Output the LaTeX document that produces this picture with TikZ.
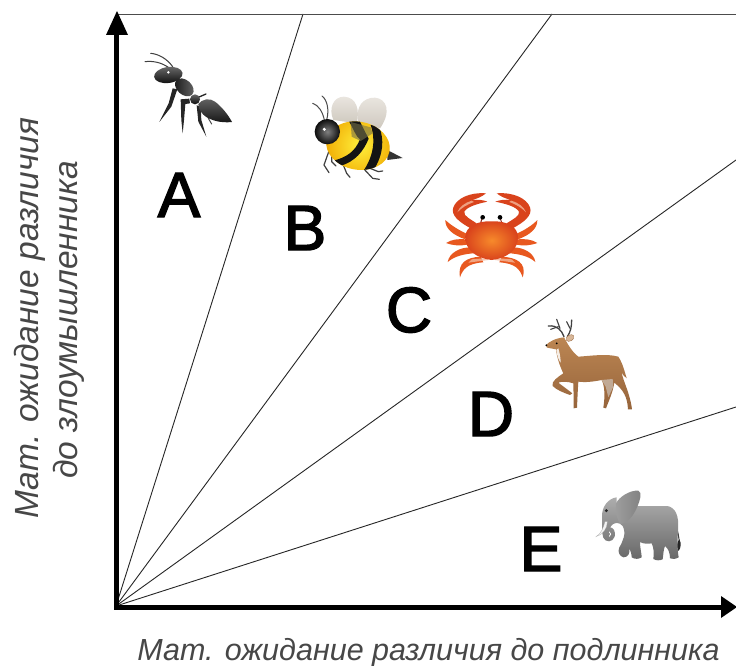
\documentclass[tikz,border=0pt]{standalone}
\usepackage{fontspec}
\setmainfont{Liberation Sans}
\newfontfamily\letterfont[FakeBold=2.2]{Liberation Sans}
\definecolor{crabdark}{HTML}{D9431C}
\definecolor{crabmid}{HTML}{E8581F}
\definecolor{crabin}{HTML}{F78A2B}
\definecolor{crabtip}{HTML}{8E2A1A}
\definecolor{crabpale}{HTML}{F4B79A}
\definecolor{deerlight}{HTML}{BC8653}
\definecolor{deerdark}{HTML}{96643B}
\definecolor{beein}{HTML}{FFF03C}
\definecolor{beeout}{HTML}{F0A800}
\definecolor{wingtop}{HTML}{E9E5DF}
\definecolor{wingbot}{HTML}{CFC9BF}
\begin{document}
\begin{tikzpicture}[x=1pt,y=-1pt,
  axisline/.style={line width=5pt,black},
  ray/.style={line width=0.9pt,black!85},
  tip/.style={fill=black,draw=none},
  letterlabel/.style={inner sep=0pt,font=\letterfont\fontsize{64}{64}\selectfont},
  axislabel/.style={inner sep=0pt,text=black!72,font=\itshape\fontsize{30.5}{36}\selectfont},
  sidelabel/.style={inner sep=0pt,text=black!72,font=\itshape\fontsize{33.5}{38}\selectfont},
  zoomed/.style={x=0.33333pt,y=-0.33333pt},
  leg/.style={line cap=round,line join=round},
]
\useasboundingbox (0,0) rectangle (736,666);
\fill[white] (0,0) rectangle (736,666);

\coordinate (O) at (116,606);
\coordinate (R1) at (303,14);
\coordinate (R2) at (552,14);
\coordinate (R3) at (736,160);
\coordinate (R4) at (736,407);
\coordinate (TL) at (118,14);
\coordinate (TR) at (736,14);
\draw[ray] (O) -- (R1);
\draw[ray] (O) -- (R2);
\draw[ray] (O) -- (R3);
\draw[ray] (O) -- (R4);
\draw[line width=0.8pt,black!70] (TL) -- (TR);

% axes
\coordinate (YT) at (117,11);
\coordinate (XT) at (737,607);
\draw[axisline] (116.5,609.5) -- (116.5,34);
\draw[axisline] (114,607) -- (722,607);
\fill[tip] (YT) -- (128,35) -- (106,35) -- cycle;
\fill[tip] (XT) -- (721,596) -- (721,618) -- cycle;

% letters
\node[letterlabel] (A) at (179,195) {A};
\node[letterlabel] (B) at (305,228) {B};
\node[letterlabel] (C) at (409,310) {C};
\node[letterlabel] (D) at (491,414) {D};
\node[letterlabel] (E) at (541,549) {E};

% axis labels
\node[axislabel] (xl) at (428.5,652.5) {Мат. ожидание различия до подлинника};
\node[sidelabel,rotate=90] (yl1) at (30,318) {Мат. ожидание различия};
\node[sidelabel,rotate=90] (yl2) at (69,320) {до злоумышленника};

% ANT
\begin{scope}[xshift=130pt,yshift=-40pt,zoomed]
 \draw[black!75,line width=1pt,leg] (128,80) .. controls (110,55) and (85,42) .. (62,40);
 \draw[black!75,line width=1pt,leg] (115,82) .. controls (95,68) and (70,62) .. (45,65);
 \fill[black!85,leg] (128,145) -- (142,148) -- (124,200) -- (88,246) -- (116,190) -- cycle;
 \fill[black!85,leg] (178,176) -- (180,190) -- (166,192) -- (162,240) -- (158,280) -- (154,240) -- (152,178) -- cycle;
 \fill[black!85,leg] (200,196) -- (212,200) -- (214,240) -- (229,290) -- (205,245) -- cycle;
 \draw[black!85,line width=1.3pt,leg] (205,172) -- (228,162);
 \draw[black!70,line width=1pt,leg] (235,235) -- (245,252);
 \shade[top color=black!60,bottom color=black!92] (205,192) .. controls (215,178) and (240,172) .. (255,185) .. controls (275,200) and (295,225) .. (306,246) .. controls (270,250) and (245,240) .. (230,232) .. controls (215,222) and (205,208) .. (205,192) -- cycle;
 \shade[top color=black!60,bottom color=black!95] (195,178) circle[radius=15];
 \shade[left color=black!90,right color=black!60,rotate around={-42:(163,142)}] (163,142) ellipse[x radius=32,y radius=22];
 \shade[top color=black!60,bottom color=black!95,rotate around={8:(115,105)}] (115,105) ellipse[x radius=43,y radius=24];
 \fill[white] (115,97) circle[radius=4];
 \fill[white] (186,204) circle[radius=3];
\end{scope}

% BEE
\begin{scope}[xshift=130pt,yshift=-40pt,zoomed]
 \draw[black!70,line width=1pt,leg] (583,240) .. controls (578,215) and (565,195) .. (548,190);
 \draw[black!70,line width=1pt,leg] (590,240) .. controls (598,210) and (592,180) .. (576,168);
 \fill[black!80] (772,330) -- (818,354) -- (772,360) -- cycle;
 \shade[top color=wingtop,bottom color=wingbot] (610,240) .. controls (595,205) and (610,170) .. (642,170) .. controls (680,172) and (690,210) .. (680,250) -- cycle;
 \shade[top color=wingtop,bottom color=wingbot] (685,245) .. controls (675,200) and (700,172) .. (735,173) .. controls (770,176) and (785,215) .. (750,265) -- cycle;
 \draw[black!75,line width=1.2pt,leg] (598,330) -- (582,375) -- (597,398);
 \draw[black!75,line width=1.2pt,leg] (605,350) -- (605,365) -- (618,378);
 \draw[black!75,line width=1.2pt,leg] (640,375) -- (650,400) -- (660,412);
 \draw[black!75,line width=1.2pt,leg] (700,385) -- (728,415) -- (748,418);
 \draw[black!75,line width=1.2pt,leg] (720,385) -- (745,395) -- (758,393);
 \begin{scope}
  \clip[rotate around={-10:(684,317)}] (684,317) ellipse[x radius=96,y radius=72];
  \shade[inner color=beein,outer color=beeout] (690,315) circle[radius=112];
  \fill[black!92] (655,240) .. controls (672,270) and (678,290) .. (690,298) .. controls (675,335) and (650,352) .. (610,362) -- (630,378) .. controls (675,365) and (700,335) .. (716,296) .. controls (705,275) and (695,255) .. (685,235) -- cycle;
  \fill[black!92] (722,255) .. controls (735,290) and (735,340) .. (702,390) -- (730,392) .. controls (762,340) and (762,300) .. (748,260) -- cycle;
 \end{scope}
 \fill[black!45!yellow!70!black,opacity=.6] (662,246) -- (722,262) -- (728,280) -- (692,303) -- (665,290) -- cycle;
 \shade[inner color=black!50,outer color=black!95] (592,275) circle[radius=38];
 \fill[white] (583,268) circle[radius=5];
\end{scope}

% CRAB
\begin{scope}[xshift=430pt,yshift=-180pt,zoomed]
 % claws
 \fill[crabdark] (122,145) .. controls (85,125) and (62,105) .. (70,82) .. controls (80,55) and (120,36) .. (168,40) .. controls (155,50) and (145,55) .. (125,60) .. controls (145,58) and (160,60) .. (172,65) .. controls (140,72) and (112,80) .. (103,95) .. controls (100,108) and (122,118) .. (140,130) -- cycle;
 \fill[crabdark] (248,145) .. controls (285,125) and (308,105) .. (300,82) .. controls (290,55) and (250,36) .. (200,40) .. controls (213,50) and (225,55) .. (243,60) .. controls (225,58) and (208,60) .. (196,65) .. controls (230,72) and (258,80) .. (267,95) .. controls (270,108) and (248,118) .. (230,130) -- cycle;
 \fill[crabpale,opacity=.8] (125,62) .. controls (105,68) and (88,80) .. (82,97) .. controls (94,84) and (110,74) .. (132,66) -- cycle;
 \fill[crabpale,opacity=.8] (243,62) .. controls (265,68) and (282,80) .. (288,97) .. controls (276,84) and (260,74) .. (238,66) -- cycle;
 % legs
 \fill[crabmid] (112,162) .. controls (85,150) and (62,135) .. (46,120) .. controls (45,145) and (68,165) .. (106,178) -- cycle;
 \fill[crabmid] (258,162) .. controls (285,150) and (308,135) .. (322,120) .. controls (323,145) and (300,165) .. (264,178) -- cycle;
 \fill[crabmid] (108,178) .. controls (85,176) and (65,178) .. (48,189) .. controls (70,197) and (90,198) .. (112,194) -- cycle;
 \fill[crabmid] (262,178) .. controls (285,176) and (305,178) .. (322,189) .. controls (300,197) and (280,198) .. (258,194) -- cycle;
 \fill[crabmid] (122,202) .. controls (90,202) and (58,218) .. (53,246) .. controls (75,228) and (100,222) .. (140,219) -- cycle;
 \fill[crabmid] (248,202) .. controls (280,202) and (312,218) .. (316,246) .. controls (295,228) and (270,222) .. (230,219) -- cycle;
 \fill[crabmid] (152,230) .. controls (110,232) and (82,248) .. (90,292) .. controls (98,268) and (112,250) .. (160,247) -- cycle;
 \fill[crabmid] (215,230) .. controls (258,232) and (292,248) .. (278,292) .. controls (270,268) and (256,250) .. (208,247) -- cycle;
 \fill[crabpale,opacity=.8] (125,238) -- (175,234) -- (175,240) -- (115,248) -- cycle;
 \fill[crabpale,opacity=.8] (245,238) -- (195,234) -- (195,240) -- (255,248) -- cycle;
 % eyes
 \draw[crabtip,line width=1pt] (157,113) -- (152,128);
 \draw[crabtip,line width=1pt] (210,113) -- (215,128);
 \fill[black] (158,112) circle[radius=7];
 \fill[black] (210,112) circle[radius=7];
 % body
 \shade[inner color=crabin,outer color=crabdark] (185,240) .. controls (140,235) and (105,210) .. (106,170) .. controls (107,140) and (140,122) .. (185,124) .. controls (230,122) and (263,140) .. (264,170) .. controls (265,210) and (230,235) .. (185,240) -- cycle;
\end{scope}

% DEER
\begin{scope}[xshift=430pt,yshift=-180pt,zoomed]
 \draw[black!75,line width=1.3pt,leg] (402,470) .. controls (395,450) and (380,435) .. (355,438);
 \draw[black!75,line width=1.1pt,leg] (390,445) -- (380,418);
 \draw[black!75,line width=1.1pt,leg] (385,440) -- (362,448);
 \draw[black!75,line width=1.3pt,leg] (412,470) .. controls (422,455) and (425,440) .. (425,420);
 \draw[black!75,line width=1.1pt,leg] (420,445) -- (410,425);
 \shade[top color=deerlight,bottom color=deerdark]
  (348,495) .. controls (358,485) and (375,475) .. (402,472) .. controls (412,490) and (425,515) .. (445,530)
  .. controls (480,528) and (530,520) .. (565,530) .. controls (575,545) and (580,560) .. (590,595)
  .. controls (583,590) and (578,583) .. (575,578) .. controls (580,605) and (600,640) .. (606,688)
  -- (594,688) .. controls (592,650) and (580,630) .. (553,608) .. controls (548,640) and (535,665) .. (528,685)
  -- (520,683) .. controls (525,650) and (525,620) .. (515,600) .. controls (490,605) and (465,608) .. (445,605)
  .. controls (443,635) and (442,660) .. (441,683) -- (431,685) .. controls (430,660) and (431,630) .. (430,610)
  .. controls (415,605) and (395,603) .. (385,608) .. controls (400,620) and (415,630) .. (427,640) -- (420,645)
  .. controls (400,638) and (380,630) .. (368,618) .. controls (362,605) and (385,590) .. (400,580)
  .. controls (390,560) and (380,530) .. (378,508) .. controls (368,505) and (355,505) .. (350,502) -- cycle;
 \fill[white!85!deerlight] (379,510) .. controls (381,525) and (385,540) .. (392,548) .. controls (392,530) and (388,515) .. (385,505) -- cycle;
 \fill[black!15!white,opacity=.55] (515,600) -- (548,597) -- (550,620) -- (535,652) -- (527,620) -- cycle;
 \fill[deerlight!60!white,draw=deerdark,line width=.3pt,rotate around={30:(420,474)}] (420,474) ellipse[x radius=13,y radius=9];
 \fill[black] (380,490) circle[radius=3];
 \fill[black] (349,496) circle[radius=3];
\end{scope}

% ELEPHANT
\begin{scope}[xshift=580pt,yshift=-470pt,zoomed]
 \draw[black!75,line width=1pt] (288,165) .. controls (294,185) and (296,200) .. (298,215);
 \fill[black!85] (298,208) .. controls (305,220) and (302,235) .. (296,243) .. controls (288,230) and (290,218) .. (298,208) -- cycle;
 \shade[top color=black!32,bottom color=black!60]
  (110,108) -- (262,108) .. controls (285,112) and (298,135) .. (294,180)
  .. controls (292,215) and (292,240) .. (296,262) .. controls (285,268) and (278,268) .. (270,265)
  .. controls (270,250) and (265,235) .. (255,228) .. controls (250,240) and (250,255) .. (248,268)
  .. controls (240,272) and (228,272) .. (220,267) .. controls (222,250) and (222,235) .. (215,220)
  .. controls (205,222) and (190,222) .. (180,216) .. controls (180,235) and (185,250) .. (185,262)
  .. controls (175,268) and (165,268) .. (155,262) .. controls (155,250) and (150,240) .. (148,235)
  .. controls (150,250) and (145,262) .. (130,262) .. controls (118,258) and (112,245) .. (118,232)
  .. controls (128,215) and (140,190) .. (128,168) .. controls (118,155) and (100,155) .. (90,172)
  .. controls (100,172) and (108,185) .. (104,200) .. controls (98,218) and (76,218) .. (70,203)
  .. controls (64,188) and (68,170) .. (66,140) .. controls (65,110) and (85,85) .. (110,82) -- cycle;
 \draw[white,line width=.8pt,leg] (88,186) .. controls (93,188) and (94,196) .. (88,199);
 \fill[white!95!black,draw=black!35,line width=.2pt] (82,155) .. controls (82,175) and (68,195) .. (48,200) .. controls (62,192) and (70,175) .. (75,155) -- cycle;
 \shade[left color=black!38,right color=black!50] (108,100) .. controls (118,80) and (150,60) .. (175,62) .. controls (188,68) and (180,90) .. (172,110) .. controls (160,140) and (140,160) .. (122,162) .. controls (110,150) and (105,120) .. (108,100) -- cycle;
 \fill[black!85] (79,122) circle[radius=5];
\end{scope}
\end{tikzpicture}
\end{document}
